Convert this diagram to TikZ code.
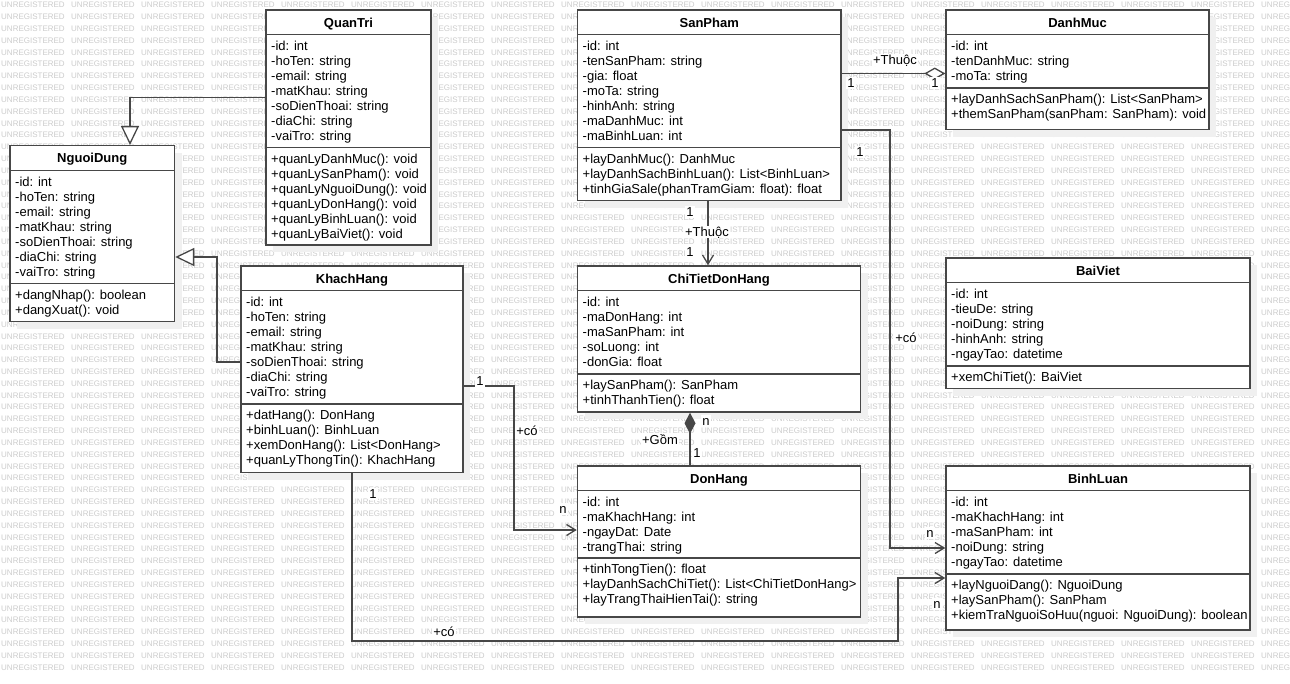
\documentclass[tikz,border=0pt]{standalone}
\usepackage{fontspec}
\setmainfont{Liberation Sans}
\usetikzlibrary{arrows.meta}

\tikzset{
  wm/.style={text=black!20, font=\fontsize{8}{8}\selectfont, anchor=west, inner sep=0pt},
  classbox/.style={draw=black!72, line width=1.5pt, fill=white, inner sep=0pt, rectangle},
  boxshadow/.style={fill=black!6},
  sepline/.style={draw=black!72, line width=1.5pt},
  member/.style={anchor=west, inner sep=0pt, text height=9.4pt, text depth=0pt,
    font=\fontsize{13}{15}\selectfont},
  classtitle/.style={inner sep=0pt, text height=9.4pt, text depth=0pt,
    font=\fontsize{13}{15}\selectfont\bfseries},
  conn/.style={draw=black!72, line width=1.3pt},
  lbl/.style={fill=white, inner sep=1pt, text height=9.4pt, text depth=0pt,
    font=\fontsize{13}{15}\selectfont},
  gen/.style={-{Triangle[length=19pt,width=18pt,fill=white]}},
  nav/.style={-{Straight Barb[length=9pt,width=11pt]}},
  agg/.style={{Diamond[length=21pt,width=12pt,fill=white]}-},
  comp/.style={{Diamond[length=21pt,width=11pt]}-},
}

% #1 name, #2 left, #3 right, #4 top, #5 y of the attribute/method divider,
% #6 bottom, #7 class name, #8 attributes, #9 operations
\newcommand\umlclass[9]{%
  \pgfmathsetmacro\cw{#3-#2}%
  \pgfmathsetmacro\ch{#6-#4}%
  \pgfmathsetmacro\hy{#4+24.7}%
  \fill[boxshadow] ({#2+7},{#4+7}) rectangle ({#3+7},{#6+7});
  \node[classbox, minimum width=\cw pt, minimum height=\ch pt] (#1)
    at ({(#2+#3)/2},{(#4+#6)/2}) {};
  \draw[sepline] (#1.west |- 0,\hy) -- (#1.east |- 0,\hy);
  \draw[sepline] (#1.west |- 0,#5) -- (#1.east |- 0,#5);
  \node[classtitle] at ({(#2+#3)/2},{#4+12.4}) {#7};
  \foreach \mtxt [count=\mi from 0] in {#8}
    \node[member] at ({#2+5},{#4+35.7+15*\mi}) {\mtxt};
  \foreach \mtxt [count=\mi from 0] in {#9}
    \node[member] at ({#2+5},{#5+11+15*\mi}) {\mtxt};
}

\begin{document}
\begin{tikzpicture}[x=1pt, y=-1pt]
\useasboundingbox (0,0) rectangle (1290,683);
\fill[white] (0,0) rectangle (1290,683);

% evaluation watermark
\foreach \wr in {0,...,56}
  \foreach \wc in {0,...,18}
    \node[wm] at ({1+70*\wc},{5+11.83*\wr}) {UNREGISTERED};

% classes
\umlclass{QuanTri}{266}{431}{10}{147.3}{245}{QuanTri}
  {-id: int,-hoTen: string,-email: string,-matKhau: string,-soDienThoai: string,-diaChi: string,-vaiTro: string}
  {+quanLyDanhMuc(): void,+quanLySanPham(): void,+quanLyNguoiDung(): void,+quanLyDonHang(): void,+quanLyBinhLuan(): void,+quanLyBaiViet(): void}

\umlclass{NguoiDung}{10}{174.5}{145.7}{283.3}{321.5}{NguoiDung}
  {-id: int,-hoTen: string,-email: string,-matKhau: string,-soDienThoai: string,-diaChi: string,-vaiTro: string}
  {+dangNhap(): boolean,+dangXuat(): void}

\umlclass{SanPham}{577.5}{841}{10}{147.3}{200.7}{SanPham}
  {-id: int,-tenSanPham: string,-gia: float,-moTa: string,-hinhAnh: string,-maDanhMuc: int,-maBinhLuan: int}
  {+layDanhMuc(): DanhMuc,+layDanhSachBinhLuan(): List<BinhLuan>,+tinhGiaSale(phanTramGiam: float): float}

\umlclass{DanhMuc}{946}{1209}{10}{88}{129.5}{DanhMuc}
  {-id: int,-tenDanhMuc: string,-moTa: string}
  {+layDanhSachSanPham(): List<SanPham>,+themSanPham(sanPham: SanPham): void}

\umlclass{KhachHang}{241}{463}{266}{404}{472.5}{KhachHang}
  {-id: int,-hoTen: string,-email: string,-matKhau: string,-soDienThoai: string,-diaChi: string,-vaiTro: string}
  {+datHang(): DonHang,+binhLuan(): BinhLuan,+xemDonHang(): List<DonHang>,+quanLyThongTin(): KhachHang}

\umlclass{ChiTietDonHang}{577.5}{860.5}{266}{374}{412}{ChiTietDonHang}
  {-id: int,-maDonHang: int,-maSanPham: int,-soLuong: int,-donGia: float}
  {+laySanPham(): SanPham,+tinhThanhTien(): float}

\umlclass{BaiViet}{946}{1250}{258}{366}{388.5}{BaiViet}
  {-id: int,-tieuDe: string,-noiDung: string,-hinhAnh: string,-ngayTao: datetime}
  {+xemChiTiet(): BaiViet}

\umlclass{DonHang}{577.5}{860.5}{466}{558}{617}{DonHang}
  {-id: int,-maKhachHang: int,-ngayDat: Date,-trangThai: string}
  {+tinhTongTien(): float,+layDanhSachChiTiet(): List<ChiTietDonHang>,+layTrangThaiHienTai(): string}

\umlclass{BinhLuan}{946}{1250}{466}{574}{630}{BinhLuan}
  {-id: int,-maKhachHang: int,-maSanPham: int,-noiDung: string,-ngayTao: datetime}
  {+layNguoiDang(): NguoiDung,+laySanPham(): SanPham,+kiemTraNguoiSoHuu(nguoi: NguoiDung): boolean}

% bend points
\coordinate (khbend) at (217,257);
\coordinate (spbend) at (890,130);
\coordinate (khdhbend) at (514,386);
\coordinate (khblbend) at (898,641);

% generalisations
\draw[conn, gen] (QuanTri.west |- 0,97.7) -| (NguoiDung.north -| 130,0);
\draw[conn, gen] (KhachHang.west |- 0,362) -| (khbend) -- (NguoiDung.east |- khbend);

% SanPham -- DanhMuc
\draw[conn, agg] (DanhMuc.west |- 0,73.5) -- (SanPham.east |- 0,73.5);
\node[lbl] at (895,60) {+Thuộc};
\node[lbl] at (851,83) {1};
\node[lbl] at (935,83) {1};

% SanPham -- ChiTietDonHang
\draw[conn, nav] (SanPham.south -| 708,0) -- (ChiTietDonHang.north -| 708,0);
\node[lbl] at (690,212) {1};
\node[lbl] at (707,232) {+Thuộc};
\node[lbl] at (690,252) {1};

% SanPham -- BinhLuan
\draw[conn, nav] (SanPham.east |- spbend) -- (spbend) |- (BinhLuan.west |- 0,548);
\node[lbl] at (860,152) {1};
\node[lbl] at (906,338) {+có};
\node[lbl] at (930,533) {n};

% ChiTietDonHang -- DonHang
\draw[conn, comp] (ChiTietDonHang.south -| 690,0) -- (DonHang.north -| 690,0);
\node[lbl] at (706,421) {n};
\node[lbl] at (660,440) {+Gồm};
\node[lbl] at (697,453) {1};

% KhachHang -- DonHang
\draw[conn, nav] (KhachHang.east |- khdhbend) -- (khdhbend) |- (DonHang.west |- 0,530);
\node[lbl] at (480,381) {1};
\node[lbl] at (527,431) {+có};
\node[lbl] at (563,509) {n};

% KhachHang -- BinhLuan
\draw[conn, nav] (KhachHang.south -| 352,0) |- (khblbend) |- (BinhLuan.west |- 0,578);
\node[lbl] at (373,494) {1};
\node[lbl] at (444,632) {+có};
\node[lbl] at (937,604) {n};
\end{tikzpicture}
\end{document}
